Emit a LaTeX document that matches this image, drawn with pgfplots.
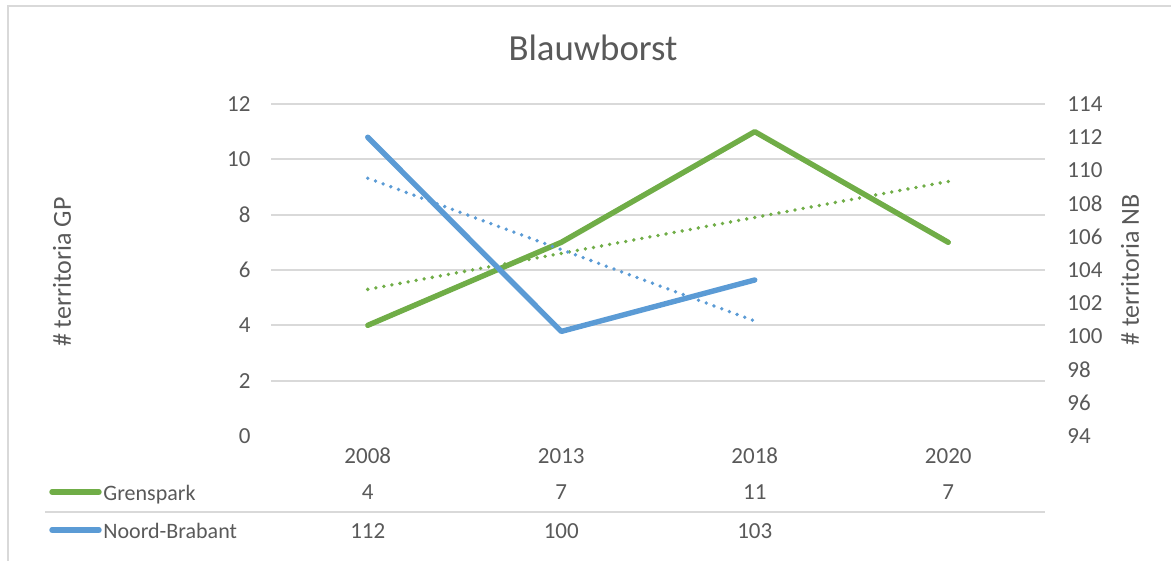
\documentclass[border=0pt]{standalone}
\usepackage{fontspec}
\setmainfont{Carlito}
\usepackage{pgfplots}
\pgfplotsset{compat=1.18}
\definecolor{gpgreen}{HTML}{70AD47}
\definecolor{nbblue}{HTML}{5B9BD5}
\definecolor{gridgray}{HTML}{D9D9D9}
\definecolor{txtgray}{HTML}{595959}

\begin{document}
\begin{tikzpicture}
\useasboundingbox (0,0) rectangle (585.5pt,-280.5pt);
% outer chart frame (only left and top edges are visible)
\draw[gridgray, line width=0.9pt] (3.8pt,-280.5pt) -- (3.8pt,-3pt) -- (585.5pt,-3pt);

\pgfplotsset{chartbase/.style={
  scale only axis, width=387pt, height=166pt,
  at={(135.5pt,-218pt)}, anchor=south west,
  xmin=0.5, xmax=4.5,
  axis line style={draw=none}, major tick length=0pt,
  tick label style={font=\fontsize{11.5}{13}\selectfont, text=txtgray},
  /pgf/number format/assume math mode=true,
  clip=false,
}}
\tikzset{tabval/.style={anchor=base, inner sep=0pt, text=txtgray, font=\fontsize{11.5}{13}\selectfont},
  trend/.style={line width=1.9pt, line cap=round, dash pattern=on 0pt off 4.1pt}}

% primary axis: Grenspark
\begin{axis}[chartbase,
  ymin=0, ymax=12, ytick={0,2,...,12},
  yticklabel style={anchor=east, xshift=-6.7pt},
  xtick={1,2,3,4}, xticklabels={2008,2013,2018,2020},
  xticklabel style={anchor=base, yshift=-13.5pt},
  extra y ticks={2,4,...,12}, extra y tick labels={},
  extra y tick style={ymajorgrids=true, major grid style={gridgray, line width=0.9pt}},
]
\addplot[gpgreen, line width=2.7pt, line cap=round, line join=round]
  coordinates {(1,4)(2,7)(3,11)(4,7)};
\addplot[gpgreen, trend]
  coordinates {(1,5.3)(4,9.2)};
% data table
\node[tabval] at (axis cs:1,-2.313) {4};
\node[tabval] at (axis cs:2,-2.313) {7};
\node[tabval] at (axis cs:3,-2.313) {11};
\node[tabval] at (axis cs:4,-2.313) {7};
\node[tabval] at (axis cs:1,-3.687) {112};
\node[tabval] at (axis cs:2,-3.687) {100};
\node[tabval] at (axis cs:3,-3.687) {103};
\end{axis}

% secondary axis: Noord-Brabant
\begin{axis}[chartbase,
  ymin=94, ymax=114, ytick={94,96,...,114},
  axis y line*=right,
  yticklabel style={anchor=west, xshift=7.7pt},
  hide x axis,
]
\addplot[nbblue, line width=2.7pt, line cap=round, line join=round]
  coordinates {(1,112)(2,100.3)(3,103.4)};
\addplot[nbblue, trend]
  coordinates {(1,109.53)(3,100.93)};
\end{axis}

% title and axis titles
\node[anchor=base, inner sep=0pt, text=txtgray, font=\fontsize{18.4}{20}\selectfont]
  at (296.5pt,-30.5pt) {Blauwborst};
\node[rotate=90, inner sep=0pt, text=txtgray, font=\fontsize{13}{15}\selectfont]
  at (31pt,-136pt) {\# territoria GP};
\node[rotate=90, inner sep=0pt, text=txtgray, font=\fontsize{13}{15}\selectfont]
  at (565pt,-135pt) {\# territoria NB};

% data table legend keys and separator
\draw[gridgray, line width=0.9pt] (22.5pt,-256pt) -- (522.5pt,-256pt);
\draw[gpgreen, line width=2.7pt, line cap=round] (26pt,-246pt) -- (49.5pt,-246pt);
\draw[nbblue, line width=2.7pt, line cap=round] (26pt,-265pt) -- (49.5pt,-265pt);
\node[anchor=base west, inner sep=0pt, text=txtgray, font=\fontsize{11}{13}\selectfont]
  at (51.5pt,-250pt) {Grenspark};
\node[anchor=base west, inner sep=0pt, text=txtgray, font=\fontsize{11}{13}\selectfont]
  at (51.5pt,-269pt) {Noord-Brabant};
\end{tikzpicture}
\end{document}
